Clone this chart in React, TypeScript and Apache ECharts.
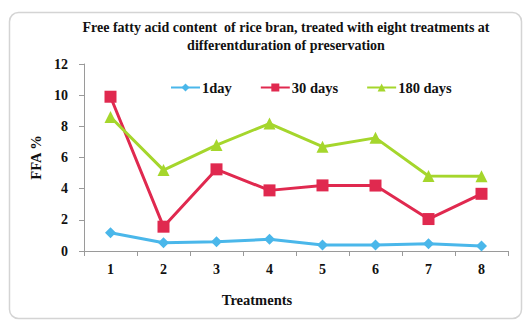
import React, { useEffect, useRef } from "react";
import * as echarts from "echarts";

const categories = ["1", "2", "3", "4", "5", "6", "7", "8"];
const day1 = [1.17, 0.53, 0.6, 0.75, 0.38, 0.38, 0.47, 0.32];
const days30 = [9.9, 1.56, 5.24, 3.89, 4.21, 4.2, 2.05, 3.67];
const days180 = [8.6, 5.19, 6.8, 8.18, 6.69, 7.26, 4.81, 4.8];
const yTicks = { min: 0, max: 12, interval: 2 };

const FONT = "'Liberation Serif', 'DejaVu Serif', serif";

export default function App() {
  const ref = useRef<HTMLDivElement>(null);
  useEffect(() => {
    if (!ref.current) return;
    const chart = echarts.init(ref.current, undefined, { renderer: "svg" });
    const mk = (name: string, data: number[], color: string, symbol: string, size: number) => ({
      name,
      type: "line",
      data,
      symbol,
      symbolSize: size,
      lineStyle: { color, width: 3 },
      itemStyle: { color },
    });
    chart.setOption({
      animation: false,
      backgroundColor: "#ffffff",
      graphic: [
        {
          type: "rect",
          shape: { x: 9.5, y: 12.5, width: 512, height: 306, r: 9 },
          style: { fill: "none", stroke: "#d4d4d4", lineWidth: 1.5 },
          z: -1,
        },
        {
          type: "text",
          x: 286,
          y: 18,
          style: {
            text: "Free fatty acid content  of rice bran, treated with eight treatments at\ndifferentduration of preservation",
            font: `bold 14px ${FONT}`,
            fill: "#111",
            align: "center",
            lineHeight: 18,
          },
        },
        {
          type: "text",
          x: 257,
          y: 292,
          style: {
            text: "Treatments",
            font: `bold 14.5px ${FONT}`,
            fill: "#111",
            align: "center",
          },
        },
      ],
      legend: {
        left: 165,
        top: 75,
        itemGap: 28,
        itemWidth: 29,
        itemHeight: 10,
        textStyle: { fontFamily: FONT, fontWeight: "bold", fontSize: 14.5, color: "#111", padding: [0, 0, 0, -3] },
        data: ["1day", "30 days", "180 days"],
      },
      grid: { left: 84, right: 23, top: 64, bottom: 69, containLabel: false },
      xAxis: {
        type: "category",
        data: categories,
        boundaryGap: true,
        axisLine: { lineStyle: { color: "#9a9a9a", width: 1 } },
        axisTick: { show: true, length: 5, lineStyle: { color: "#9a9a9a" } },
        axisLabel: { margin: 11, fontFamily: FONT, fontWeight: "bold", fontSize: 14, color: "#111" },
        splitLine: { show: false },
      },
      yAxis: {
        type: "value",
        min: yTicks.min,
        max: yTicks.max,
        interval: yTicks.interval,
        name: "FFA %",
        nameLocation: "middle",
        nameRotate: 90,
        nameGap: 39,
        nameTextStyle: { fontFamily: FONT, fontWeight: "bold", fontSize: 14.5, color: "#111" },
        axisLine: { show: true, lineStyle: { color: "#9a9a9a", width: 1 } },
        axisTick: { show: true, length: 5, lineStyle: { color: "#9a9a9a" } },
        axisLabel: { margin: 16, fontFamily: FONT, fontWeight: "bold", fontSize: 14, color: "#111" },
        splitLine: { show: false },
      },
      series: [
        mk("1day", day1, "#4ab7ea", "diamond", 11),
        mk("30 days", days30, "#e0294f", "rect", 12),
        mk("180 days", days180, "#a5d62c", "triangle", 12),
      ],
    });
    return () => chart.dispose();
  }, []);
  return (
    <div
      ref={ref}
      style={{ position: "fixed", left: 0, top: 0, width: 531, height: 320 }}
    />
  );
}
